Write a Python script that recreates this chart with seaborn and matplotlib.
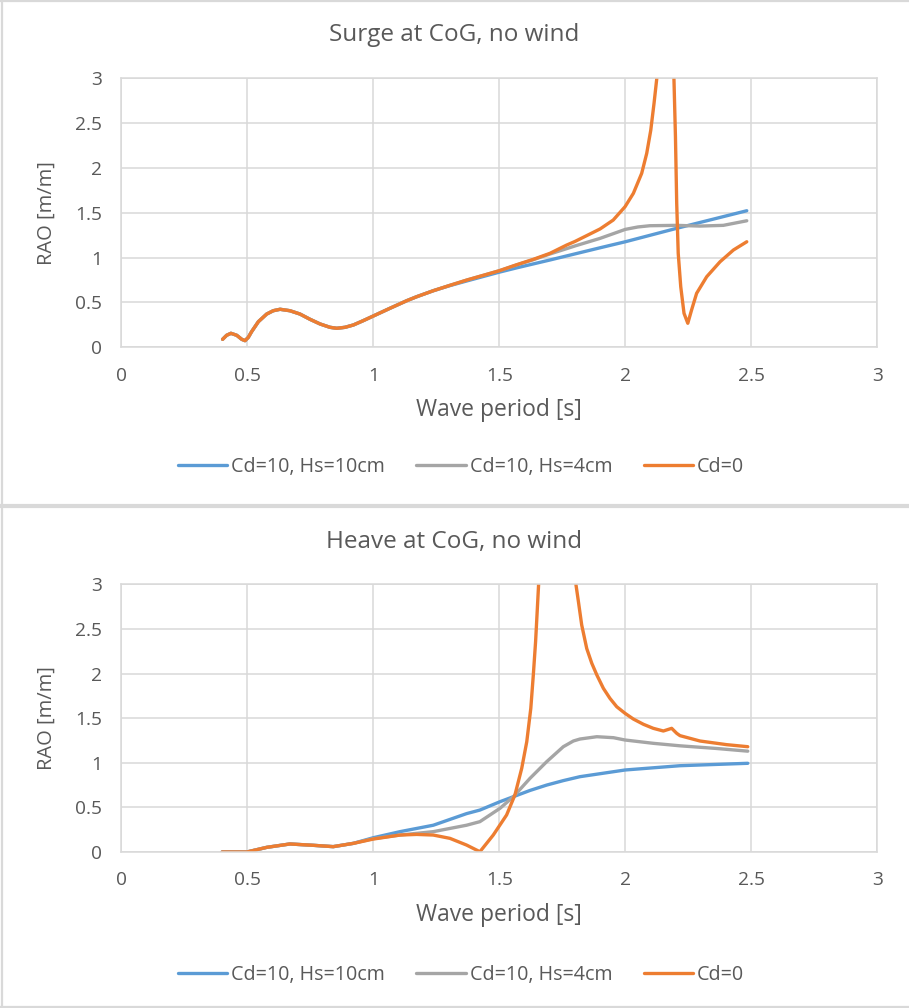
import numpy as np
import pandas as pd
import matplotlib
matplotlib.use("Agg")
import matplotlib.pyplot as plt
import seaborn as sns
from matplotlib.lines import Line2D
from matplotlib.ticker import FuncFormatter

# ---------------- data ----------------
series_names = ["Cd=10, Hs=10cm", "Cd=10, Hs=4cm", "Cd=0"]
series_colors = ["#5B9BD5", "#A5A5A5", "#ED7D31"]

# Surge at CoG (common low-period part)
surge_low_T = [0.402, 0.418, 0.435, 0.458, 0.478, 0.491, 0.504, 0.517, 0.544, 0.577, 0.603, 0.630,
               0.669, 0.709, 0.749, 0.789, 0.828, 0.855, 0.888, 0.921, 0.960, 1.0, 1.066, 1.133,
               1.172, 1.238]
surge_low_y = [0.089, 0.134, 0.156, 0.134, 0.089, 0.074, 0.111, 0.174, 0.286, 0.371, 0.408, 0.424,
               0.408, 0.371, 0.312, 0.260, 0.223, 0.212, 0.223, 0.249, 0.297, 0.349, 0.435, 0.520,
               0.564, 0.631]

surge_blue_T = surge_low_T + [1.304, 1.371, 1.437, 1.5, 1.569, 1.635, 1.7, 1.9, 2.0, 2.204, 2.482]
surge_blue_y = surge_low_y + [0.688, 0.740, 0.790, 0.838, 0.886, 0.930, 0.973, 1.11, 1.177, 1.327, 1.523]

surge_gray_T = surge_low_T + [1.304, 1.371, 1.437, 1.5, 1.569, 1.635, 1.7, 1.767, 1.8, 1.9, 2.0, 2.05,
                              2.098, 2.204, 2.296, 2.389, 2.482]
surge_gray_y = surge_low_y + [0.691, 0.750, 0.803, 0.854, 0.919, 0.977, 1.040, 1.10, 1.13, 1.215, 1.315,
                              1.342, 1.356, 1.36, 1.352, 1.36, 1.411]

surge_orange_T = surge_low_T + [1.304, 1.371, 1.437, 1.5, 1.569, 1.635, 1.701, 1.767, 1.8, 1.9, 1.952,
                                1.999, 2.032, 2.065, 2.085, 2.101, 2.114, 2.125, 2.15, 2.17, 2.193,
                                2.199, 2.204, 2.21, 2.22, 2.233, 2.248, 2.263, 2.283, 2.323, 2.376,
                                2.429, 2.482]
surge_orange_y = surge_low_y + [0.691, 0.750, 0.803, 0.854, 0.921, 0.981, 1.048, 1.14, 1.18, 1.32, 1.419,
                                1.568, 1.717, 1.94, 2.163, 2.42, 2.72, 3.0, 5.0, 5.0, 3.0,
                                2.35, 1.605, 1.048, 0.676, 0.379, 0.268, 0.416, 0.602, 0.787, 0.954,
                                1.085, 1.177]

# Heave at CoG (common low-period part)
heave_low_T = [0.40, 0.498, 0.577, 0.669, 0.762, 0.841, 0.921]
heave_low_y = [0.0, 0.0, 0.052, 0.09, 0.075, 0.06, 0.097]

heave_blue_T = heave_low_T + [1.0, 1.106, 1.238, 1.37, 1.423, 1.503, 1.556, 1.622, 1.688, 1.754, 1.82,
                              1.999, 2.217, 2.486]
heave_blue_y = heave_low_y + [0.16, 0.228, 0.30, 0.43, 0.47, 0.564, 0.62, 0.69, 0.75, 0.80, 0.844,
                              0.919, 0.967, 0.994]

heave_gray_T = heave_low_T + [1.0, 1.106, 1.238, 1.37, 1.423, 1.503, 1.556, 1.622, 1.688, 1.754, 1.794,
                              1.82, 1.887, 1.953, 1.999, 2.111, 2.217, 2.363, 2.486]
heave_gray_y = heave_low_y + [0.15, 0.19, 0.228, 0.30, 0.34, 0.49, 0.62, 0.826, 1.012, 1.18, 1.244,
                              1.266, 1.292, 1.281, 1.255, 1.218, 1.19, 1.16, 1.13]

heave_orange_T = heave_low_T + [1.0, 1.106, 1.172, 1.238, 1.304, 1.37, 1.423, 1.476, 1.529, 1.562, 1.589,
                                1.609, 1.625, 1.635, 1.644, 1.651, 1.656, 1.70, 1.75, 1.804, 1.814,
                                1.827, 1.847, 1.867, 1.887, 1.913, 1.939, 1.966, 1.999, 2.032, 2.072,
                                2.111, 2.151, 2.184, 2.204, 2.217, 2.296, 2.402, 2.486]
heave_orange_y = heave_low_y + [0.145, 0.19, 0.197, 0.19, 0.153, 0.078, 0.003, 0.19, 0.415, 0.639, 0.938,
                                1.236, 1.61, 1.984, 2.357, 2.73, 3.0, 6.0, 6.0, 3.0, 2.805,
                                2.544, 2.28, 2.115, 1.984, 1.834, 1.722, 1.628, 1.554, 1.49, 1.431,
                                1.386, 1.356, 1.386, 1.33, 1.304, 1.244, 1.203, 1.18]

tick_values = [0, 0.5, 1, 1.5, 2, 2.5, 3]


def long_frame(pairs):
    frames = []
    for name, (t, y) in zip(series_names, pairs):
        frames.append(pd.DataFrame({"T": t, "RAO": y, "series": name}))
    return pd.concat(frames, ignore_index=True)


surge_df = long_frame([(surge_blue_T, surge_blue_y), (surge_gray_T, surge_gray_y),
                       (surge_orange_T, surge_orange_y)])
heave_df = long_frame([(heave_blue_T, heave_blue_y), (heave_gray_T, heave_gray_y),
                       (heave_orange_T, heave_orange_y)])

# ---------------- style ----------------
sns.set_style("white")
plt.rcParams["font.family"] = ["Open Sans", "DejaVu Sans"]
TXT = "#595959"
GRID = "#D9D9D9"
W, H = 909, 1008

fig = plt.figure(figsize=(W / 100, H / 100), dpi=100)
fig.patch.set_facecolor("white")

palette = dict(zip(series_names, series_colors))


def fx(px):
    return px / W


def fy(py):
    return 1 - py / H


panels = [
    (surge_df, "Surge at CoG, no wind", 78.3, 347.3, 35, 410, 467),
    (heave_df, "Heave at CoG, no wind", 584.3, 852.0, 542, 915, 975),
]

x0, x1 = 121.3, 877.3
for df, title, top, bot, ty, xly, legy in panels:
    ax = fig.add_axes([fx(x0), fy(bot), (x1 - x0) / W, (bot - top) / H])
    sns.lineplot(data=df, x="T", y="RAO", hue="series", hue_order=series_names,
                 palette=palette, estimator=None, sort=False, linewidth=2.4,
                 legend=False, ax=ax)
    for ln in ax.lines:
        ln.set_solid_joinstyle("round")
        ln.set_solid_capstyle("round")
    ax.set_xlim(0, 3)
    ax.set_ylim(0, 3)
    ax.set_xticks(tick_values)
    ax.set_yticks(tick_values)
    fmt = FuncFormatter(lambda v, p: f"{v:g}")
    ax.xaxis.set_major_formatter(fmt)
    ax.yaxis.set_major_formatter(fmt)
    ax.grid(True, color=GRID, linewidth=1.1)
    ax.set_axisbelow(True)
    for s in ax.spines.values():
        s.set_color(GRID)
        s.set_linewidth(1.1)
    ax.tick_params(axis="both", length=0, labelsize=13.8, colors=TXT)
    ax.tick_params(axis="y", pad=14)
    ax.tick_params(axis="x", pad=14)
    ax.set_xlabel("")
    ax.set_ylabel("")

    fig.text(0.5, fy(ty), title, ha="center", va="center", fontsize=17.5, color=TXT)
    fig.text(fx(499), fy(xly), "Wave period [s]", ha="center", va="center", fontsize=16.5, color=TXT)
    fig.text(fx(47), fy((top + bot) / 2), "RAO [m/m]", ha="center", va="center",
             rotation=90, fontsize=14.5, color=TXT)

    handles = [Line2D([0], [0], color=c, lw=2.4) for c in series_colors]
    fig.legend(handles, series_names, loc="center", bbox_to_anchor=(fx(461), fy(legy)),
               ncol=3, frameon=False, fontsize=14.2, labelcolor=TXT,
               handlelength=2.5, handletextpad=0.2, columnspacing=1.6)

# chart borders
border_kw = dict(color=GRID, transform=fig.transFigure, solid_capstyle="butt")
fig.add_artist(Line2D([fx(2), fx(2)], [fy(0), fy(1008)], lw=1.6, **border_kw))
fig.add_artist(Line2D([fx(0), fx(909)], [fy(1), fy(1)], lw=1.6, **border_kw))
fig.add_artist(Line2D([fx(0), fx(909)], [fy(506), fy(506)], lw=3.0, **border_kw))
fig.add_artist(Line2D([fx(0), fx(909)], [fy(1006.5), fy(1006.5)], lw=1.6, **border_kw))

fig.savefig("out.png", dpi=100, facecolor="white")
